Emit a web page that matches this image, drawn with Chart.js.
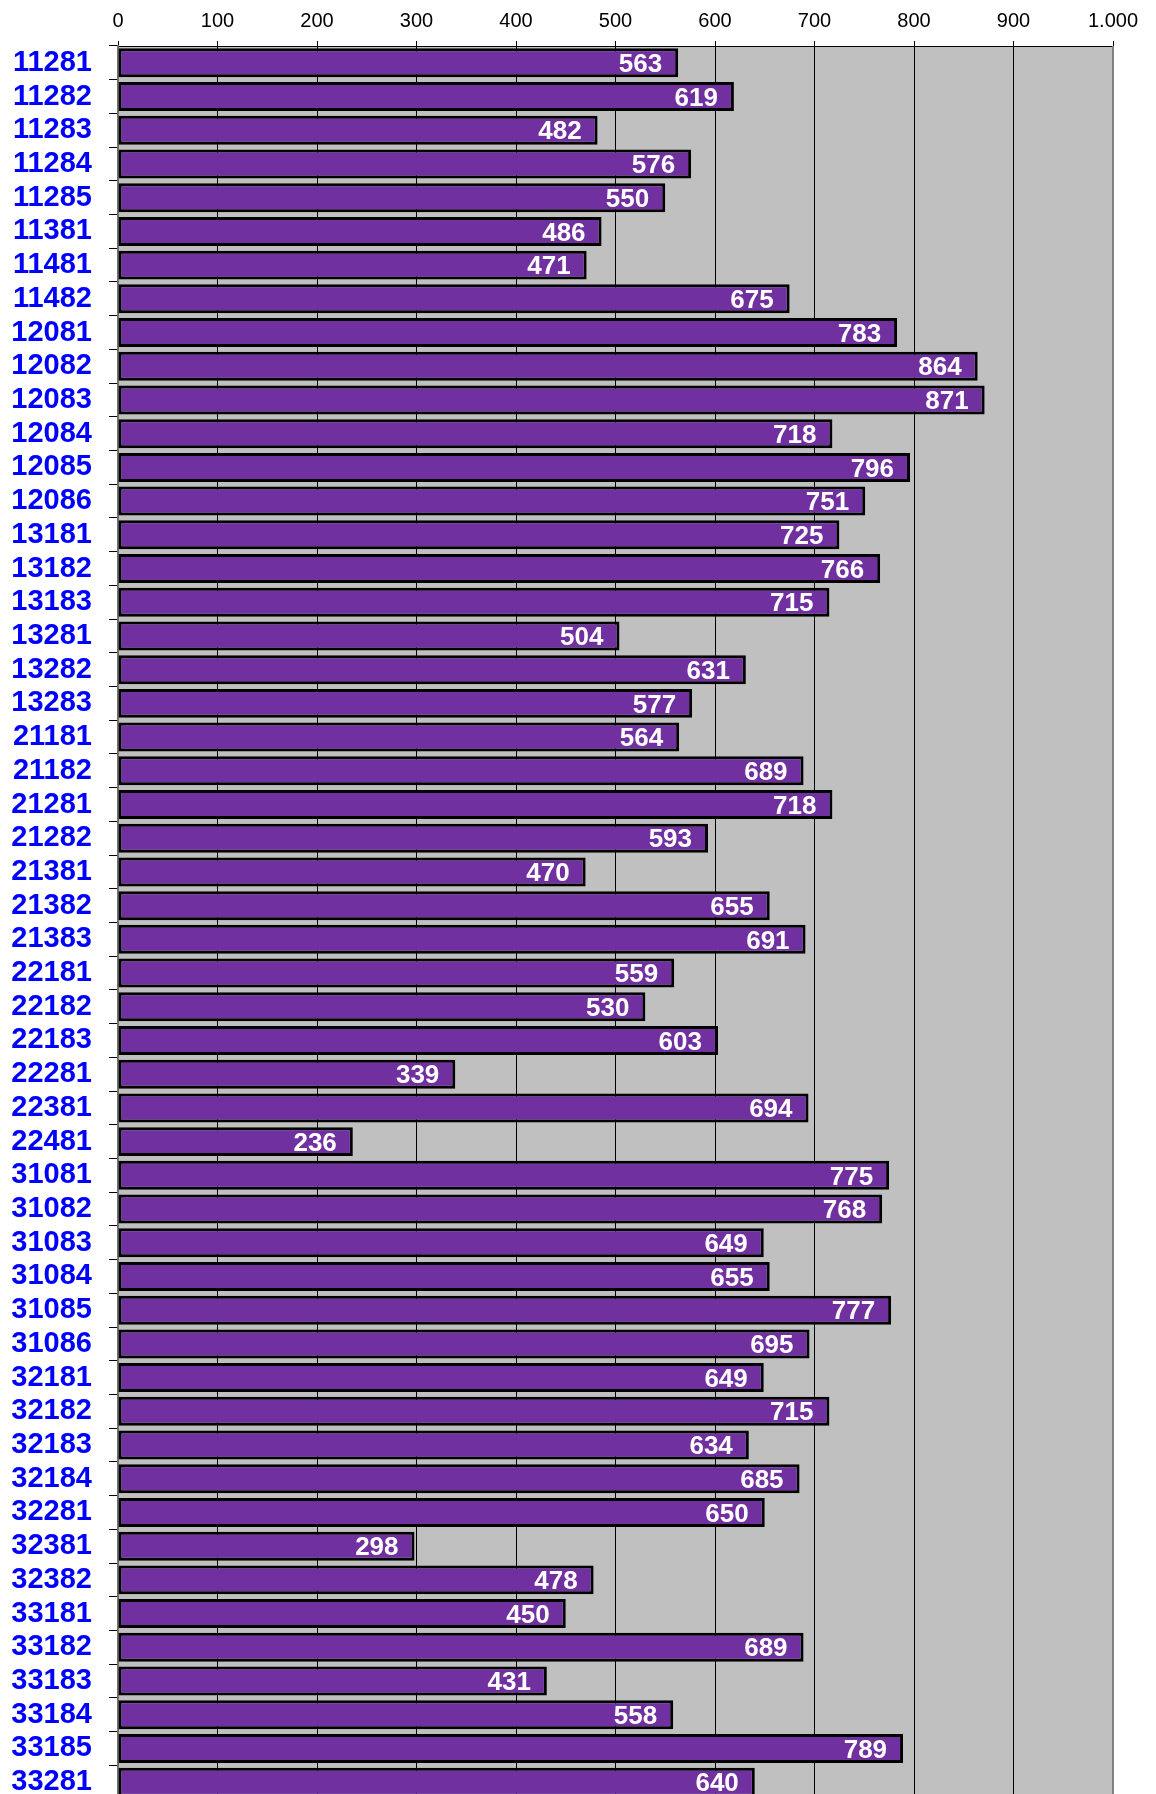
<!DOCTYPE html>
<html>
<head>
<meta charset="utf-8">
<script src="https://cdn.jsdelivr.net/npm/chart.js@4.4.1/dist/chart.umd.min.js"></script>
<style>
  html, body { margin: 0; padding: 0; background: #fff; overflow: hidden; }
  #wrap { width: 1156px; height: 1812px; }
</style>
</head>
<body>
<div id="wrap"><canvas id="barChart" width="1156" height="1812"></canvas></div>
<script>
// district codes, top to bottom
const codes = [
  '11281','11282','11283','11284','11285','11381','11481','11482',
  '12081','12082','12083','12084','12085','12086',
  '13181','13182','13183','13281','13282','13283',
  '21181','21182','21281','21282','21381','21382','21383',
  '22181','22182','22183','22281','22381','22481',
  '31081','31082','31083','31084','31085','31086',
  '32181','32182','32183','32184','32281','32381','32382',
  '33181','33182','33183','33184','33185','33281'
];
const counts = [
  563, 619, 482, 576, 550, 486, 471, 675,
  783, 864, 871, 718, 796, 751,
  725, 766, 715, 504, 631, 577,
  564, 689, 718, 593, 470, 655, 691,
  559, 530, 603, 339, 694, 236,
  775, 768, 649, 655, 777, 695,
  649, 715, 634, 685, 650, 298, 478,
  450, 689, 431, 558, 789, 640
];
const axisMax = 1000;
const axisStep = 100;

const FONT = '"Liberation Sans", Arial, sans-serif';

function fmtThousands(v) {
  return String(v).replace(/\B(?=(\d{3})+(?!\d))/g, '.');
}

// grey plot background
const plotBg = {
  id: 'plotBg',
  beforeDraw(chart) {
    const { ctx, chartArea: a } = chart;
    ctx.save();
    ctx.fillStyle = '#c0c0c0';
    ctx.fillRect(a.left, a.top, a.right - a.left, a.bottom - a.top);
    ctx.restore();
  }
};

// white value labels inside the bar ends
const valueLabels = {
  id: 'valueLabels',
  afterDatasetsDraw(chart) {
    const { ctx } = chart;
    const meta = chart.getDatasetMeta(0);
    ctx.save();
    ctx.font = 'bold 26px ' + FONT;
    ctx.fillStyle = '#ffffff';
    ctx.textAlign = 'right';
    ctx.textBaseline = 'middle';
    meta.data.forEach((bar, i) => {
      ctx.fillText(String(counts[i]), bar.x - 16, bar.y + 2);
    });
    ctx.restore();
  }
};

// right edge of the plot
const rightEdge = {
  id: 'rightEdge',
  afterDraw(chart) {
    const { ctx, chartArea: a } = chart;
    ctx.save();
    ctx.strokeStyle = '#808080';
    ctx.lineWidth = 2;
    ctx.beginPath();
    ctx.moveTo(a.right, a.top);
    ctx.lineTo(a.right, a.bottom);
    ctx.stroke();
    ctx.restore();
  }
};

new Chart(document.getElementById('barChart'), {
  type: 'bar',
  data: {
    labels: codes,
    datasets: [{
      data: counts,
      backgroundColor: '#7030a0',
      borderColor: '#000000',
      borderWidth: 3,
      borderSkipped: false,
      barPercentage: 0.86,
      categoryPercentage: 1.0
    }]
  },
  options: {
    indexAxis: 'y',
    responsive: false,
    animation: false,
    devicePixelRatio: 1,
    layout: { padding: { top: 1, right: 43, bottom: 13, left: 0 } },
    plugins: {
      legend: { display: false },
      tooltip: { enabled: false }
    },
    scales: {
      x: {
        position: 'top',
        min: 0,
        max: axisMax,
        afterFit(scale) {
          scale.height = 45;
          scale.paddingLeft = 0;
          scale.paddingRight = 0;
        },
        ticks: {
          stepSize: axisStep,
          color: '#000000',
          padding: 8,
          maxRotation: 0,
          font: { family: FONT, size: 20 },
          callback: (v) => fmtThousands(v)
        },
        grid: {
          color: '#000000',
          lineWidth: 1,
          tickLength: 5,
          drawOnChartArea: true
        },
        border: { color: '#000000', width: 1 }
      },
      y: {
        offset: true,
        afterFit(scale) {
          scale.width = 118;
          scale.paddingTop = 0;
          scale.paddingBottom = 0;
        },
        ticks: {
          autoSkip: false,
          color: '#0000ff',
          padding: 17,
          font: { family: FONT, size: 29, weight: 'bold' }
        },
        grid: {
          offset: true,
          drawOnChartArea: false,
          color: '#000000',
          tickLength: 9
        },
        border: { color: '#707070', width: 2 }
      }
    }
  },
  plugins: [plotBg, valueLabels, rightEdge]
});
</script>
</body>
</html>
